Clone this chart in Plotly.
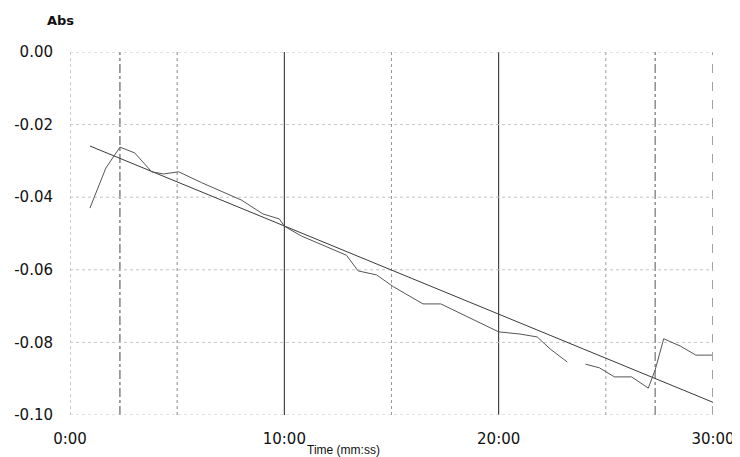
import plotly.graph_objects as go

# Measured absorbance vs time (minutes)
time_min = [0.93, 1.67, 2.33, 3.02, 3.81, 4.37, 5.07, 6.14, 8.0, 9.0, 9.77, 10.0, 10.8,
            12.2, 12.9, 13.44, 14.3, 15.1, 16.47, 17.3, 20.0, 21.0, 21.8, 22.4, 23.2,
            None, 24.05, 24.7, 25.4, 26.2, 26.98, 27.3, 27.7, 28.47, 29.2, 29.95]
absorbance = [-0.043, -0.032, -0.0262, -0.0278, -0.033, -0.0336, -0.033, -0.036, -0.0408,
              -0.0446, -0.046, -0.048, -0.0507, -0.0543, -0.056, -0.0603, -0.0614, -0.0647,
              -0.0694, -0.0694, -0.0771, -0.0777, -0.0785, -0.0818, -0.0854,
              None, -0.0860, -0.087, -0.0895, -0.0895, -0.0926, -0.0876, -0.079, -0.081,
              -0.0835, -0.0835]

# Linear fit line
fit_time = [0.93, 30.0]
fit_abs = [-0.0259, -0.0965]

x_tickvals = [0, 10, 20, 30]
x_ticktext = ["0:00", "10:00", "20:00", "30:00"]
y_tickvals = [0.0, -0.02, -0.04, -0.06, -0.08, -0.10]
y_ticktext = ["0.00", "-0.02", "-0.04", "-0.06", "-0.08", "-0.10"]

# Vertical grid lines (minutes) and styles
vgrid_pos = [0, 2.33, 5.0, 10.0, 15.0, 20.0, 25.0, 27.3, 30.0]
vgrid_dash = ["dot", "dashdot", "dot", "solid", "dot", "solid", "dot", "dashdot", "dash"]
vgrid_color = ["#999", "#444", "#888", "#222", "#999", "#222", "#999", "#555", "#444"]
hgrid_pos = [0.0, -0.02, -0.04, -0.06, -0.08, -0.10]

fig = go.Figure()

fig.add_trace(go.Scatter(x=fit_time, y=fit_abs, mode="lines",
                         line=dict(color="#3a3a3a", width=1), showlegend=False))
fig.add_trace(go.Scatter(x=time_min, y=absorbance, mode="lines",
                         line=dict(color="#555555", width=1), connectgaps=False,
                         showlegend=False))

shapes = []
for p, d, c in zip(vgrid_pos, vgrid_dash, vgrid_color):
    shapes.append(dict(type="line", xref="x", yref="y", x0=p, x1=p, y0=-0.10, y1=0.0,
                       line=dict(color=c, width=1, dash=d), layer="below"))
for p in hgrid_pos:
    shapes.append(dict(type="line", xref="x", yref="y", x0=0, x1=30, y0=p, y1=p,
                       line=dict(color="#c4c4c4", width=1, dash="dot"), layer="below"))

fig.update_layout(
    width=732, height=449,
    margin=dict(l=62, r=27, t=44, b=42),
    plot_bgcolor="white", paper_bgcolor="white",
    font=dict(family="DejaVu Sans, sans-serif", color="#111"),
    shapes=shapes,
    xaxis=dict(range=[0, 30], tickvals=x_tickvals, ticktext=x_ticktext,
               showgrid=False, zeroline=False, showline=False, ticks="",
               automargin=False,
               tickfont=dict(size=15), ticklabelstandoff=13),
    yaxis=dict(range=[-0.10, 0.0], tickvals=y_tickvals, ticktext=y_ticktext,
               showgrid=False, zeroline=False, showline=False, ticks="",
               automargin=False,
               tickfont=dict(size=15), ticklabelstandoff=16),
    annotations=[
        dict(text="<b>Abs</b>", xref="paper", yref="paper", x=-0.014, y=1.088,
             xanchor="center", yanchor="middle", showarrow=False,
             font=dict(size=13, family="DejaVu Sans, sans-serif")),
        dict(text="Time (mm:ss)", xref="paper", yref="paper", x=0.3655, y=-0.0964,
             xanchor="left", yanchor="middle", showarrow=False,
             font=dict(size=12, family="Liberation Sans, Arial, sans-serif")),
    ],
)

fig.write_html("out.html")
